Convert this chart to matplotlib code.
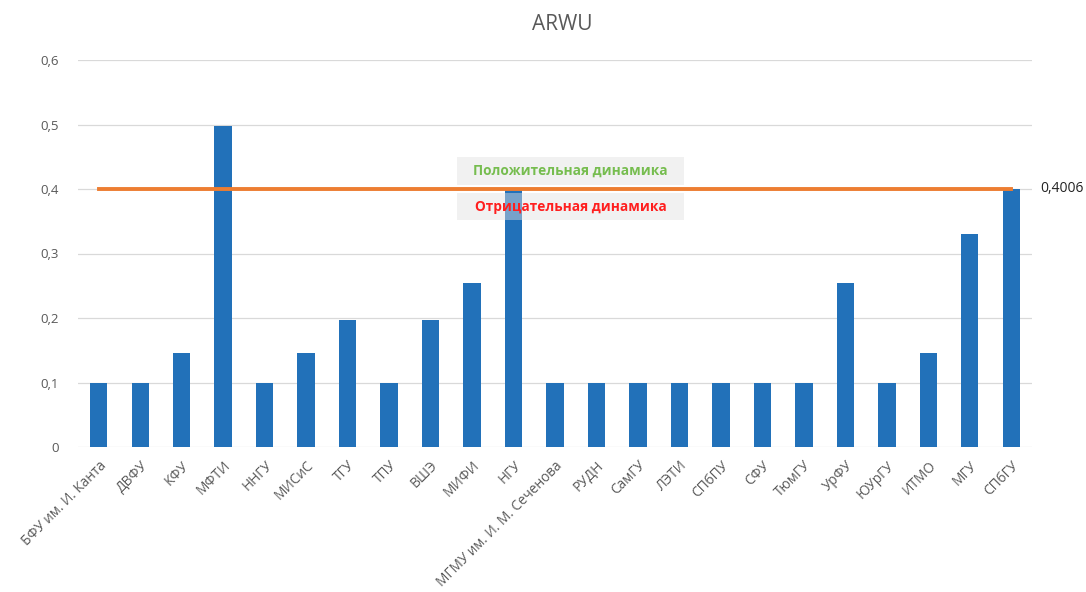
import matplotlib
matplotlib.use("Agg")
import matplotlib.pyplot as plt
from matplotlib.ticker import FuncFormatter
from matplotlib.patches import Rectangle

categories = ["БФУ им. И. Канта", "ДВФУ", "КФУ", "МФТИ", "ННГУ", "МИСиС", "ТГУ", "ТПУ",
              "ВШЭ", "МИФИ", "НГУ", "МГМУ им. И. М. Сеченова", "РУДН", "СамГУ", "ЛЭТИ",
              "СПбПУ", "СФУ", "ТюмГУ", "УрФУ", "ЮУрГУ", "ИТМО", "МГУ", "СПбГУ"]
values = [0.1, 0.1, 0.146, 0.498, 0.1, 0.146, 0.197, 0.1,
          0.197, 0.255, 0.4, 0.1, 0.1, 0.1, 0.1,
          0.1, 0.1, 0.1, 0.255, 0.1, 0.146, 0.33, 0.4]
threshold = 0.4006
title = "ARWU"
pos_label = "Положительная динамика"
neg_label = "Отрицательная динамика"
yticks = [0, 0.1, 0.2, 0.3, 0.4, 0.5, 0.6]

plt.rcParams['font.family'] = ['Open Sans', 'DejaVu Sans']

W, H = 1086, 592
fig = plt.figure(figsize=(W/100, H/100), dpi=100)
ax = fig.add_axes([78/W, 1-447/H, (1032-78)/W, (447-60)/H])

x = list(range(len(categories)))
ax.bar(x, values, width=0.42, color="#2271b9", zorder=3)
ax.plot([x[0], x[-1]], [threshold, threshold], color="#ed7d31", lw=2.8, zorder=4)

ax.set_xlim(-0.5, len(categories) - 0.5)
ax.set_ylim(0, 0.6)
ax.set_yticks(yticks)
ax.yaxis.set_major_formatter(FuncFormatter(lambda v, p: "0" if v == 0 else f"{v:.1f}".replace(".", ",")))
ax.grid(axis="y", color="#d9d9d9", lw=0.9, zorder=0)
for s in ax.spines.values():
    s.set_visible(False)
ax.tick_params(axis="y", length=0, pad=14, labelsize=9.5, labelcolor="#595959")
ax.tick_params(axis="x", length=0, pad=8, labelsize=9.8, labelcolor="#595959")
ax.set_xticks(x)
ax.set_xticklabels(categories, rotation=45, ha="right", rotation_mode="anchor")

fig.text(562/W, 1-25/H, title, ha="center", va="center", fontsize=15, color="#595959")

# annotation boxes (semi-transparent, as in the reference)
for (y0, y1), label, col in [((157, 185), pos_label, "#76bd4f"),
                             ((193, 220), neg_label, "#ff1f1f")]:
    fig.patches.append(Rectangle((457/W, 1-y1/H), (684-457)/W, (y1-y0)/H,
                                 transform=fig.transFigure, fc=(0.88, 0.88, 0.88, 0.45),
                                 ec="none", zorder=5))
    fig.text((457+684)/2/W, 1-(y0+y1)/2/H, label, ha="center", va="center",
             fontsize=9.8, weight="bold", color=col, zorder=6)

fig.text(1040/W, 1-189/H, f"{threshold:.4f}".replace(".", ","), ha="left", va="center",
         fontsize=10, color="#222222")

fig.savefig("out.png", dpi=100)
